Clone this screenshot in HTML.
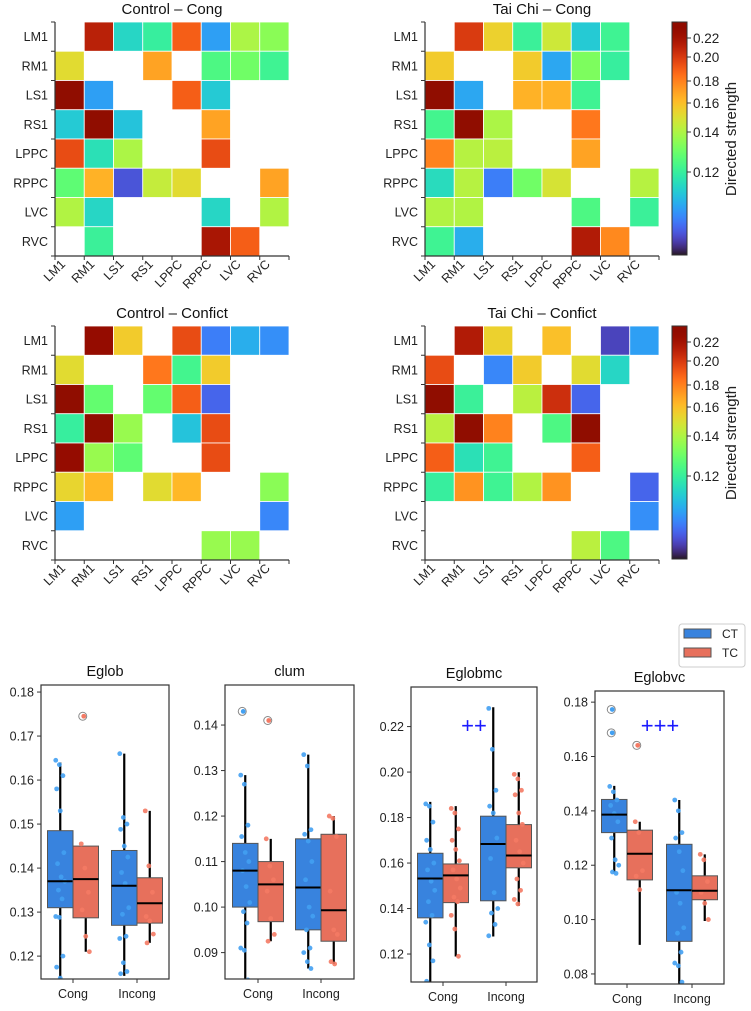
<!DOCTYPE html>
<html><head><meta charset="utf-8"><style>
body{margin:0;background:#fff}
svg{display:block;font-family:"Liberation Sans",sans-serif}
</style></head><body>
<svg id="fig" width="751" height="1011" viewBox="0 0 751 1011"></svg>
<script>
const regions=["LM1","RM1","LS1","RS1","LPPC","RPPC","LVC","RVC"];
const N=null;
const ctrlCong=[
[N,0.212,0.115,0.12,0.19,0.107,0.14,0.135],
[0.152,N,N,0.17,N,0.125,0.131,0.122],
[0.232,0.107,N,N,0.19,0.113,N,N],
[0.113,0.232,0.112,N,N,0.17,N,N],
[0.195,0.117,0.14,N,N,0.195,N,N],
[0.128,0.165,0.098,0.145,0.152,N,N,0.17],
[0.141,0.115,N,N,N,0.115,N,0.141],
[N,0.121,N,N,N,0.218,0.19,N]];
const taiCong=[
[N,0.2,0.155,0.121,0.147,0.113,0.122,N],
[0.157,N,N,0.157,0.108,0.133,0.12,N],
[0.232,0.108,N,0.165,0.165,0.122,N,N],
[0.123,0.232,0.14,N,N,0.183,N,N],
[0.18,0.142,0.143,N,N,0.17,N,N],
[0.116,0.142,0.103,0.131,0.149,N,N,0.142],
[0.141,0.141,N,N,N,0.125,N,0.121],
[0.122,0.109,N,N,N,0.215,0.178,N]];
const ctrlConf=[
[N,0.226,0.157,N,0.195,0.103,0.109,0.105],
[0.152,N,N,0.183,0.123,0.157,N,N],
[0.232,0.129,N,0.129,0.19,0.1,N,N],
[0.12,0.232,0.137,N,0.112,0.195,N,N],
[0.226,0.137,0.128,N,N,0.195,N,N],
[0.154,0.163,N,0.152,0.163,N,N,0.135],
[0.107,N,N,N,N,N,N,0.104],
[N,N,N,N,N,0.137,0.137,N]];
const taiConf=[
[N,0.215,0.155,N,0.16,N,0.096,0.107],
[0.195,N,0.104,0.157,N,0.152,0.115,N],
[0.232,0.121,N,0.143,0.205,0.1,N,N],
[0.143,0.232,0.18,N,0.125,0.232,N,N],
[0.19,0.117,0.122,N,N,0.19,N,N],
[0.12,0.175,0.122,0.141,0.175,N,N,0.1],
[N,N,N,N,N,N,N,0.105],
[N,N,N,N,N,0.143,0.125,N]];
const cbTicks=[0.22,0.20,0.18,0.16,0.14,0.12];
const cbTickLabels=["0.22","0.20","0.18","0.16","0.14","0.12"];

// Boxplot data: [q1,median,q3,whiskerLow,whiskerHigh]
const groups=["Cong","Incong"];
const egStats={CT:[[0.131,0.137,0.1485,0.11,0.164],[0.127,0.136,0.144,0.1155,0.166]],TC:[[0.1287,0.1375,0.145,0.121,0.145],[0.1275,0.132,0.1378,0.123,0.153]]};
const egOut={CT:[[],[]],TC:[[0.1745],[]]};
const egPts={CT:[[0.1645,0.1635,0.161,0.158,0.153,0.1435,0.141,0.138,0.137,0.135,0.133,0.129,0.1288,0.12,0.1175,0.115],[0.166,0.1515,0.15,0.1488,0.145,0.1425,0.139,0.1365,0.131,0.1295,0.1245,0.124,0.1185,0.1165,0.116]],TC:[[0.1455,0.14,0.1345,0.1305,0.1245,0.121],[0.153,0.1405,0.1345,0.129,0.128,0.125,0.123]]};
const clStats={CT:[[0.1,0.108,0.114,0.08,0.129],[0.095,0.1043,0.115,0.0865,0.1335]],TC:[[0.0968,0.105,0.11,0.0925,0.115],[0.0925,0.0993,0.116,0.0875,0.12]]};
const clOut={CT:[[0.143],[]],TC:[[0.141],[]]};
const clPts={CT:[[0.129,0.127,0.118,0.1155,0.112,0.11,0.108,0.1045,0.101,0.099,0.0965,0.091,0.0905,0.084],[0.1335,0.131,0.117,0.116,0.1145,0.11,0.106,0.1,0.098,0.095,0.091,0.09,0.088,0.0865]],TC:[[0.115,0.109,0.106,0.1035,0.0975,0.094,0.0925],[0.12,0.1195,0.1155,0.1035,0.095,0.094,0.088,0.0875]]};
const mcStats={CT:[[0.1359,0.1532,0.1643,0.1,0.1869],[0.1434,0.1684,0.1806,0.1277,0.2285]],TC:[[0.1426,0.1546,0.1596,0.1189,0.185],[0.1579,0.1633,0.1769,0.1412,0.1999]]};
const mcOut={CT:[[],[]],TC:[[],[]]};
const mcPts={CT:[[0.186,0.185,0.178,0.17,0.166,0.16,0.157,0.152,0.148,0.143,0.137,0.134,0.124,0.117,0.108],[0.228,0.21,0.192,0.185,0.182,0.171,0.162,0.147,0.14,0.138,0.133,0.128]],TC:[[0.184,0.182,0.175,0.17,0.166,0.161,0.157,0.153,0.149,0.145,0.143,0.137,0.131,0.119],[0.199,0.197,0.192,0.19,0.182,0.177,0.17,0.165,0.16,0.153,0.148,0.144,0.142]]};
const vcStats={CT:[[0.132,0.1386,0.1442,0.1174,0.1492],[0.092,0.1108,0.1277,0.07,0.144]],TC:[[0.1146,0.1242,0.1329,0.0907,0.136],[0.1073,0.1106,0.1161,0.0995,0.124]]};
const vcOut={CT:[[0.1773,0.1687],[]],TC:[[0.1641],[]]};
const vcPts={CT:[[0.149,0.147,0.144,0.142,0.139,0.136,0.13,0.122,0.12,0.1175,0.117],[0.144,0.14,0.132,0.13,0.125,0.118,0.11,0.106,0.097,0.095,0.088,0.084,0.083,0.077]],TC:[[0.136,0.132,0.118,0.116,0.111],[0.124,0.122,0.114,0.11,0.106,0.1]]};

const NS="http://www.w3.org/2000/svg";
const svg=document.getElementById('fig');
function mk(tag,attrs,parent,text){const e=document.createElementNS(NS,tag);for(const k in attrs)e.setAttribute(k,attrs[k]);if(text!==undefined)e.textContent=text;(parent||svg).appendChild(e);return e;}
function turbo(x){x=Math.max(0,Math.min(1,x));
const r=0.13572138+x*(4.61539260+x*(-42.66032258+x*(132.13108234+x*(-152.94239396+x*59.28637943))));
const g=0.09140261+x*(2.19418839+x*(4.84296658+x*(-14.18503333+x*(4.27729857+x*2.82956604))));
const b=0.10667330+x*(12.64194608+x*(-60.58204836+x*(110.36276771+x*(-89.90310912+x*27.34824973))));
const c=v=>Math.round(255*Math.max(0,Math.min(1,v)));return `rgb(${c(r)},${c(g)},${c(b)})`;}
// colour norm (nonlinear colorbar): value -> fraction from top of bar
const normV=[0.232,0.22,0.20,0.18,0.16,0.14,0.12,0.09];
const normP=[0,16,35,59,81,110,150,233];
function posOf(v){if(v>=normV[0])return 0;for(let i=0;i<normV.length-1;i++){if(v<=normV[i]&&v>=normV[i+1]){const t=(normV[i]-v)/(normV[i]-normV[i+1]);return normP[i]+t*(normP[i+1]-normP[i]);}}return 233;}
function colorOf(v){return turbo(1-posOf(v)/233);}

const CELL=29.25;
function heatmap(x0,y0,title,data,name){
  const g=mk('g',{});
  
  
  const t=mk('text',{x:x0+117,y:y0-8,'text-anchor':'middle','font-size':15,fill:'#111'},g,title);
  
  
  data.forEach((row,i)=>row.forEach((v,j)=>{if(v===null)return;
    const r=mk('rect',{x:x0+j*CELL,y:y0+i*CELL,width:CELL,height:CELL,fill:colorOf(v),stroke:'#fff','stroke-width':0.8},g);
    
    }));
  mk('line',{x1:x0,y1:y0,x2:x0,y2:y0+8*CELL,stroke:'#333','stroke-width':1.2},g);
  mk('line',{x1:x0,y1:y0+8*CELL,x2:x0+8*CELL,y2:y0+8*CELL,stroke:'#333','stroke-width':1.2},g);
  for(let k=0;k<=8;k++){
    mk('line',{x1:x0-4,y1:y0+k*CELL,x2:x0,y2:y0+k*CELL,stroke:'#333'},g);
    mk('line',{x1:x0+k*CELL,y1:y0+8*CELL,x2:x0+k*CELL,y2:y0+8*CELL+4,stroke:'#333'},g);}
  regions.forEach((n,k)=>{
    const yl=mk('text',{x:x0-7,y:y0+k*CELL+CELL/2+4.5,'text-anchor':'end','font-size':12.5,fill:'#222'},g,n);
    
    
    const ax=x0+k*CELL+11, ay=y0+8*CELL+9;
    const xl=mk('text',{x:ax,y:ay,'text-anchor':'end','font-size':12.5,fill:'#222',transform:`rotate(-45 ${ax} ${ay})`},g,n);
    
    });
}
function colorbar(x0,y0){
  const g=mk('g',{});
  
  
  for(let p=0;p<233;p++)mk('rect',{x:x0,y:y0+p,width:15,height:1.2,fill:turbo(1-p/233)},g);
  mk('rect',{x:x0,y:y0,width:15,height:233,fill:'none',stroke:'#333','stroke-width':1},g);
  cbTicks.forEach((v,i)=>{const y=y0+posOf(v);
    mk('line',{x1:x0+15,y1:y,x2:x0+19,y2:y,stroke:'#333'},g);
    const t=mk('text',{x:x0+21,y:y+5,'font-size':13.5,fill:'#222'},g,cbTickLabels[i]);
    
    });
  const lx=x0+64, ly=y0+117;
  const l=mk('text',{x:lx,y:ly,'text-anchor':'middle','font-size':15,fill:'#222',transform:`rotate(-90 ${lx} ${ly})`},g,'Directed strength');
  
  
}
heatmap(55,22,'Control – Cong',ctrlCong,'heatmap-control-cong');
heatmap(425,22,'Tai Chi – Cong',taiCong,'heatmap-taichi-cong');
heatmap(55,326,'Control – Confict',ctrlConf,'heatmap-control-conflict');
heatmap(425,326,'Tai Chi – Confict',taiConf,'heatmap-taichi-conflict');
colorbar(672,22);colorbar(672,326);

// box plots
const boxFill={CT:'#3883de',TC:'#e7705c'};
const ptFill={CT:'#42a0f2',TC:'#f47a64'};
function boxpanel(cfg){
  const {x0,x1,y0,y1,vmin,vmax,ticks,tickLabels,title,titleY,stats,outs,pts,centers,name}=cfg;
  const g=mk('g',{});
  
  
  const ys=v=>y1-(v-vmin)/(vmax-vmin)*(y1-y0);
  const cid='clip'+name;
  const cp=mk('clipPath',{id:cid},g);mk('rect',{x:x0,y:y0,width:x1-x0,height:y1-y0},cp);
  const inner=mk('g',{'clip-path':`url(#${cid})`},g);
  const bw=25.5;
  ['CT','TC'].forEach((s,si)=>groups.forEach((gr,gi)=>{
    const st=stats[s][gi];const cx=centers[gi]+(si===0?-bw/2:bw/2);
    mk('line',{x1:cx,y1:ys(st[3]),x2:cx,y2:ys(st[4]),stroke:'#000','stroke-width':2.2},inner);
    const b=mk('rect',{x:cx-bw/2,y:ys(st[2]),width:bw,height:ys(st[0])-ys(st[2]),fill:boxFill[s],stroke:'#555','stroke-width':1},inner);
    
    
    pts[s][gi].forEach((v,k)=>{const jx=cx+((k*37)%11-5)*0.9;
      const c=mk('circle',{cx:jx,cy:ys(v),r:2.4,fill:ptFill[s],opacity:0.9},inner);
      
      });
    mk('line',{x1:cx-bw/2,y1:ys(st[1]),x2:cx+bw/2,y2:ys(st[1]),stroke:'#000','stroke-width':2},inner);
    outs[s][gi].forEach(v=>{mk('circle',{cx:cx-3,cy:ys(v),r:4,fill:'none',stroke:'#888','stroke-width':1},inner);
      const o=mk('circle',{cx:cx-2,cy:ys(v),r:2.4,fill:ptFill[s]},inner);
      
      });
  }));
  mk('rect',{x:x0,y:y0,width:x1-x0,height:y1-y0,fill:'none',stroke:'#333','stroke-width':1.2},g);
  ticks.forEach((v,i)=>{const y=ys(v);
    mk('line',{x1:x0-4,y1:y,x2:x0,y2:y,stroke:'#333'},g);
    const t=mk('text',{x:x0-7,y:y+4.5,'text-anchor':'end','font-size':12.5,fill:'#222'},g,tickLabels[i]);
    
    });
  groups.forEach((gr,gi)=>{mk('line',{x1:centers[gi],y1:y1,x2:centers[gi],y2:y1+4,stroke:'#333'},g);
    const t=mk('text',{x:centers[gi],y:y1+19,'text-anchor':'middle','font-size':12.5,fill:'#222'},g,gr);
    
    });
  const tt=mk('text',{x:(x0+x1)/2,y:titleY,'text-anchor':'middle','font-size':14.5,fill:'#111'},g,title);
  
  
}
boxpanel({name:'eglob-panel',x0:41,x1:169,y0:685,y1:979,vmin:0.1148,vmax:0.1816,ticks:[0.18,0.17,0.16,0.15,0.14,0.13,0.12],tickLabels:["0.18","0.17","0.16","0.15","0.14","0.13","0.12"],title:'Eglob',titleY:676,stats:egStats,outs:egOut,pts:egPts,centers:[73,137]});
boxpanel({name:'clum-panel',x0:225,x1:354,y0:685,y1:979,vmin:0.0842,vmax:0.1488,ticks:[0.14,0.13,0.12,0.11,0.10,0.09],tickLabels:["0.14","0.13","0.12","0.11","0.10","0.09"],title:'clum',titleY:676,stats:clStats,outs:clOut,pts:clPts,centers:[258,321]});
boxpanel({name:'eglobmc-panel',x0:411,x1:537,y0:687,y1:982,vmin:0.1077,vmax:0.2374,ticks:[0.22,0.20,0.18,0.16,0.14,0.12],tickLabels:["0.22","0.20","0.18","0.16","0.14","0.12"],title:'Eglobmc',titleY:678,stats:mcStats,outs:mcOut,pts:mcPts,centers:[443,506]});
boxpanel({name:'eglobvc-panel',x0:595,x1:724,y0:691,y1:984,vmin:0.0763,vmax:0.1841,ticks:[0.18,0.16,0.14,0.12,0.10,0.08],tickLabels:["0.18","0.16","0.14","0.12","0.10","0.08"],title:'Eglobvc',titleY:682,stats:vcStats,outs:vcOut,pts:vcPts,centers:[627,692]});
const s1=mk('text',{x:474,y:733,'text-anchor':'middle','font-size':22,fill:'#1a1aff'},svg,'++');


const s2=mk('text',{x:660,y:733,'text-anchor':'middle','font-size':22,fill:'#1a1aff'},svg,'+++');


// legend
const lg=mk('g',{});


mk('rect',{x:679,y:624,width:66,height:43,rx:3,fill:'#fff',stroke:'#ccc'},lg);
mk('rect',{x:684,y:629,width:27,height:9,fill:boxFill.CT,stroke:'#555'},lg);
mk('rect',{x:684,y:648,width:27,height:9,fill:boxFill.TC,stroke:'#555'},lg);
const l1=mk('text',{x:722,y:638,'font-size':12,fill:'#222'},lg,'CT');


const l2=mk('text',{x:722,y:657,'font-size':12,fill:'#222'},lg,'TC');


</script>
</body></html>
